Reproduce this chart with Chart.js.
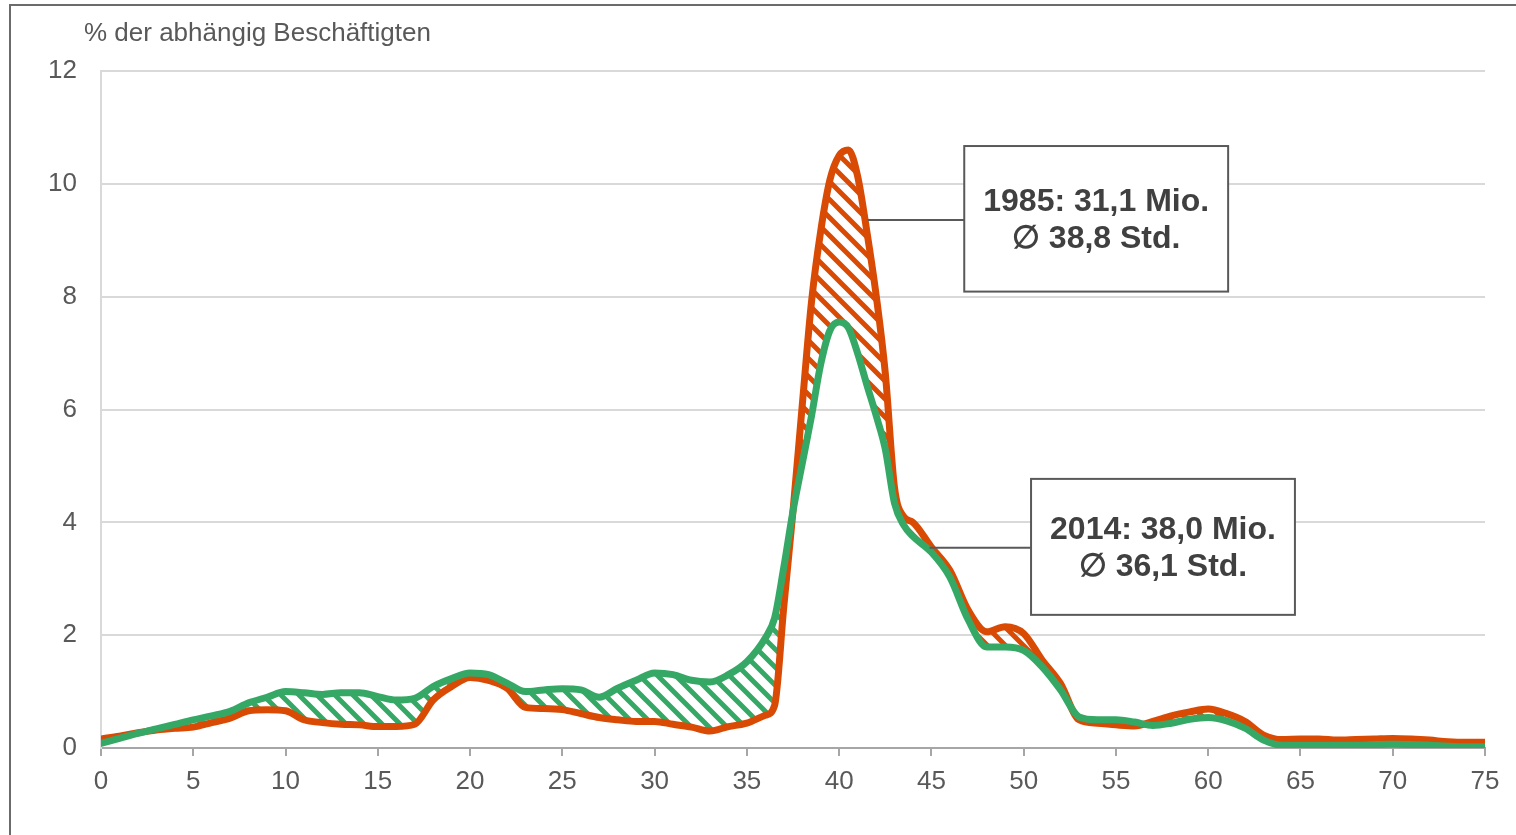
<!DOCTYPE html>
<html lang="de">
<head>
<meta charset="utf-8">
<title>Arbeitszeitverteilung 1985 und 2014</title>
<script src="https://cdn.jsdelivr.net/npm/chart.js@4/dist/chart.umd.min.js"></script>
<style>
    html, body { margin: 0; padding: 0; background: #fff; overflow: hidden; }
    #wrap { position: relative; width: 1516px; height: 835px; }
    #frame {
        position: absolute; left: 9px; top: 4px; width: 2000px; height: 2000px;
        border-left: 2px solid #6b6b6b; border-top: 2px solid #6b6b6b;
        pointer-events: none;
    }
</style>
</head>
<body>
<div id="wrap">
    <canvas id="hoursChart" width="1516" height="835"></canvas>
    <div id="frame"></div>
</div>
<script>
// Wochenarbeitszeit in Stunden (halbe Stunden um den Gipfel herum)
const hours = [
    0, 1, 2, 3, 4, 5, 6, 7, 8, 9, 10, 11, 12, 13, 14, 15, 16, 17, 18, 19,
    20, 21, 22, 23, 24, 25, 26, 27, 28, 29, 30, 31, 32, 33, 34, 35, 36,
    36.5, 37, 37.5, 38, 38.5, 39, 39.5, 40, 40.5, 41, 41.5, 42, 42.5, 43, 43.5,
    44, 45, 46, 47, 48, 49, 50, 51, 52, 53, 54, 55, 56, 57, 58, 59, 60, 61, 62, 63,
    64, 65, 66, 67, 68, 69, 70, 71, 72, 73, 74, 75
];

// % der abhängig Beschäftigten, 1985
const share1985 = [
    0.16, 0.21, 0.27, 0.32, 0.35, 0.37, 0.45, 0.53, 0.66, 0.68,
    0.66, 0.50, 0.45, 0.42, 0.41, 0.38, 0.38, 0.42, 0.85, 1.09,
    1.25, 1.20, 1.06, 0.72, 0.70, 0.68, 0.61, 0.54, 0.50, 0.47,
    0.47, 0.42, 0.37, 0.30, 0.38, 0.44, 0.58,
    0.75, 2.5, 4.2, 6.07, 7.9, 9.16, 10.07, 10.5, 10.6, 10.14, 9.16, 8.04, 6.65, 4.62, 4.1,
    4.0, 3.56, 3.15, 2.44, 2.06, 2.15, 2.03, 1.56, 1.14, 0.50,
    0.44, 0.41, 0.39, 0.47, 0.57, 0.64, 0.69, 0.61, 0.47, 0.23,
    0.15, 0.16, 0.16, 0.14, 0.15, 0.16, 0.17, 0.16, 0.14, 0.11,
    0.10, 0.10
];

// % der abhängig Beschäftigten, 2014
const share2014 = [
    0.08, 0.17, 0.26, 0.34, 0.42, 0.50, 0.57, 0.65, 0.80, 0.90,
    1.00, 0.98, 0.95, 0.98, 0.98, 0.91, 0.85, 0.88, 1.09, 1.23,
    1.33, 1.30, 1.15, 1.00, 1.03, 1.05, 1.03, 0.90, 1.06, 1.20,
    1.33, 1.30, 1.20, 1.17, 1.30, 1.53, 1.95,
    2.3, 3.2, 4.2, 5.04, 5.88, 6.8, 7.4, 7.55, 7.45, 7.0, 6.44, 5.9, 5.3, 4.34, 3.95,
    3.75, 3.47, 3.03, 2.27, 1.79, 1.79, 1.73, 1.44, 1.03, 0.55,
    0.50, 0.50, 0.46, 0.40, 0.44, 0.51, 0.54, 0.48, 0.35, 0.14,
    0.05, 0.05, 0.05, 0.05, 0.05, 0.06, 0.065, 0.06, 0.05, 0.03,
    0.02, 0.02
];

const notes = [
    { lines: ['1985: 31,1 Mio.', '\u2205 38,8 Std.'], x0: 46.78, x1: 61.08, top: 10.67, bottom: 8.09, ax: 41.55, ay: 9.36 },
    { lines: ['2014: 38,0 Mio.', '\u2205 36,1 Std.'], x0: 50.4, x1: 64.7, top: 4.77, bottom: 2.36, ax: 44.9, ay: 3.55 }
];

const RED = '#d94b05';
const GREEN = '#36a866';
const FONT = "'Liberation Sans', Arial, sans-serif";

function hatch(color) {
    const s = 18;
    const c = document.createElement('canvas');
    c.width = s; c.height = s;
    const g = c.getContext('2d');
    g.strokeStyle = color;
    g.lineWidth = 5;
    g.beginPath();
    for (const k of [-s, 0, s]) {
        g.moveTo(k - 2, -2);
        g.lineTo(k + s + 2, s + 2);
    }
    g.stroke();
    return g.createPattern(c, 'repeat');
}

const toPoints = arr => hours.map((h, i) => ({ x: h, y: arr[i] }));

const labelsPlugin = {
    id: 'labels',
    afterDraw(chart) {
        const { ctx, scales: { x, y }, chartArea } = chart;
        ctx.save();
        // Achsentitel oben links
        ctx.font = '26px ' + FONT;
        ctx.fillStyle = '#595959';
        ctx.textAlign = 'left';
        ctx.textBaseline = 'middle';
        ctx.fillText('% der abhängig Beschäftigten', chartArea.left - 17, 34);

        for (const n of notes) {
            const l = x.getPixelForValue(n.x0), r = x.getPixelForValue(n.x1);
            const t = y.getPixelForValue(n.top), b = y.getPixelForValue(n.bottom);
            const ay = y.getPixelForValue(n.ay);
            ctx.strokeStyle = '#595959';
            ctx.lineWidth = 2;
            ctx.beginPath();
            ctx.moveTo(x.getPixelForValue(n.ax), ay);
            ctx.lineTo(l, ay);
            ctx.stroke();
            ctx.fillStyle = '#fff';
            ctx.fillRect(l, t, r - l, b - t);
            ctx.strokeRect(l, t, r - l, b - t);
            ctx.fillStyle = '#404040';
            ctx.font = 'bold 32px ' + FONT;
            ctx.textAlign = 'center';
            const cx = (l + r) / 2, cy = (t + b) / 2;
            ctx.fillText(n.lines[0], cx, cy - 17);
            ctx.fillText(n.lines[1], cx, cy + 20);
        }
        ctx.restore();
    }
};

const ctx = document.getElementById('hoursChart').getContext('2d');
const hoursChart = new Chart(ctx, {
    type: 'line',
    data: {
        datasets: [
            {
                label: '2014',
                data: toPoints(share2014),
                borderColor: GREEN,
                borderWidth: 7,
                fill: false,
            },
            {
                label: '1985',
                data: toPoints(share1985),
                borderColor: RED,
                borderWidth: 7,
                fill: { target: 0, above: hatch(RED), below: hatch(GREEN) },
            }
        ]
    },
    options: {
        responsive: false,
        animation: false,
        elements: {
            point: { radius: 0 },
            line: { cubicInterpolationMode: 'monotone', borderCapStyle: 'round', borderJoinStyle: 'round' }
        },
        layout: { padding: { left: 21, top: 71, right: 31, bottom: 37 } },
        scales: {
            x: {
                type: 'linear',
                min: 0,
                max: 75,
                ticks: { stepSize: 5, padding: 10, color: '#595959', font: { family: FONT, size: 26 }, maxRotation: 0 },
                grid: { drawOnChartArea: false, drawTicks: true, tickLength: 8, color: '#a6a6a6', lineWidth: 2 },
                border: { color: '#a6a6a6', width: 2 },
                afterFit: s => { s.height = 50; }
            },
            y: {
                min: 0,
                max: 12,
                ticks: { stepSize: 2, padding: 24, color: '#595959', font: { family: FONT, size: 26 } },
                grid: { color: '#d9d9d9', lineWidth: 2, drawTicks: false },
                border: { color: '#d9d9d9', width: 2 },
                afterFit: s => { s.width = 80; }
            }
        },
        plugins: {
            legend: { display: false },
            tooltip: { enabled: false }
        }
    },
    plugins: [labelsPlugin]
});
</script>
</body>
</html>
